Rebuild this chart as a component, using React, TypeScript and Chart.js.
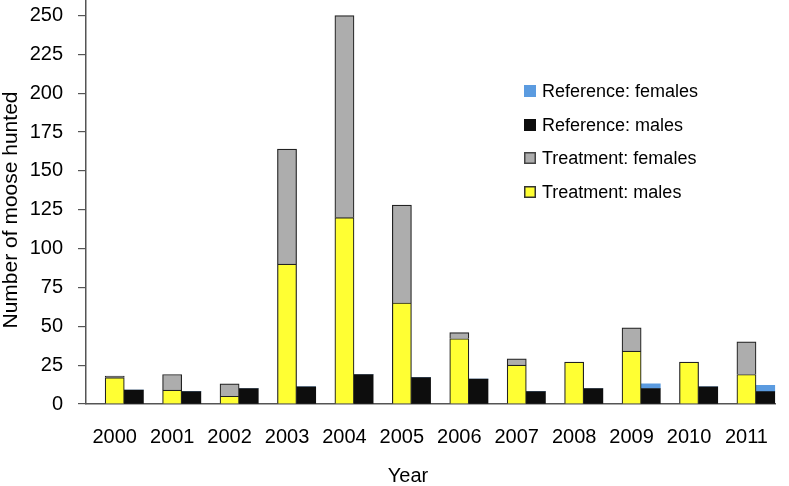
import React, { useEffect, useRef } from "react";
import { Chart, registerables } from "chart.js";

Chart.register(...registerables);

const years = ["2000", "2001", "2002", "2003", "2004", "2005", "2006", "2007", "2008", "2009", "2010", "2011"];
const treatmentMales = [17, 9, 5, 90, 120, 65, 42, 25, 27, 34, 27, 19];
const treatmentFemales = [1, 10, 8, 74, 130, 63, 4, 4, 0, 15, 0, 21];
const referenceMales = [9, 8, 10, 11, 19, 17, 16, 8, 10, 10, 11, 8];
const referenceFemales = [0, 0, 0, 0, 0, 0, 0, 0, 0, 3, 0, 4];
const emptySlot = [0, 0, 0, 0, 0, 0, 0, 0, 0, 0, 0, 0];
const yTickValues = [0, 25, 50, 75, 100, 125, 150, 175, 200, 225, 250];
const yMax = 260;

const FONT = "'Liberation Sans', Arial, sans-serif";
const YELLOW = "#FFFF33";
const GRAY = "#ADADAD";
const BLACK = "#0D0D0D";
const BLUE = "#5B9BE0";
const EDGE = "#222222";
const AXIS = "#555555";

const legendItems = [
  { label: "Reference: females", color: BLUE, border: null },
  { label: "Reference: males", color: BLACK, border: null },
  { label: "Treatment: females", color: GRAY, border: "#444444" },
  { label: "Treatment: males", color: YELLOW, border: "#333333" },
];

const overlayPlugin = {
  id: "overlay",
  afterDraw(chart: any) {
    const ctx = chart.ctx as CanvasRenderingContext2D;
    ctx.save();
    const bx = 524;
    const rows = [91, 125, 158, 192];
    ctx.font = `18px ${FONT}`;
    ctx.textBaseline = "middle";
    ctx.textAlign = "left";
    legendItems.forEach((it, i) => {
      const cy = rows[i];
      ctx.fillStyle = it.color;
      ctx.fillRect(bx, cy - 6, 12, 12);
      if (it.border) {
        ctx.strokeStyle = it.border;
        ctx.lineWidth = 1.5;
        ctx.strokeRect(bx + 0.75, cy - 5.25, 10.5, 10.5);
      }
      ctx.fillStyle = "#000000";
      ctx.fillText(it.label, 542, cy + 1);
    });
    ctx.font = `21px ${FONT}`;
    ctx.textAlign = "center";
    ctx.textBaseline = "middle";
    ctx.save();
    ctx.translate(11, 210);
    ctx.rotate(-Math.PI / 2);
    ctx.fillText("Number of moose hunted", 0, 0);
    ctx.restore();
    ctx.font = `20px ${FONT}`;
    ctx.fillText("Year", 408, 476);
    ctx.restore();
  },
};

export default function App() {
  const canvasRef = useRef<HTMLCanvasElement | null>(null);

  useEffect(() => {
    document.body.style.margin = "0";
    const canvas = canvasRef.current;
    if (!canvas) return;
    const chart = new Chart(canvas, {
      type: "bar",
      data: {
        labels: years,
        datasets: [
          {
            label: "spacer",
            data: emptySlot,
            stack: "a",
            backgroundColor: "rgba(0,0,0,0)",
            borderWidth: 0,
          },
          {
            label: "Treatment: males",
            data: treatmentMales,
            stack: "b",
            backgroundColor: YELLOW,
            borderColor: EDGE,
            borderWidth: 1.2,
          },
          {
            label: "Treatment: females",
            data: treatmentFemales,
            stack: "b",
            backgroundColor: GRAY,
            borderColor: EDGE,
            borderWidth: 1.2,
          },
          {
            label: "Reference: males",
            data: referenceMales,
            stack: "c",
            backgroundColor: BLACK,
            borderWidth: 0,
          },
          {
            label: "Reference: females",
            data: referenceFemales,
            stack: "c",
            backgroundColor: BLUE,
            borderWidth: 0,
          },
        ],
      },
      options: {
        animation: false,
        responsive: false,
        maintainAspectRatio: false,
        layout: { padding: { left: 0, right: 1, top: 0, bottom: 0 } },
        datasets: {
          bar: { categoryPercentage: 1, barPercentage: 1 },
        },
        plugins: {
          legend: { display: false },
          tooltip: { enabled: false },
          title: { display: false },
        },
        scales: {
          x: {
            stacked: true,
            grid: { display: false, drawTicks: false },
            border: { display: true, color: AXIS, width: 1.5 },
            ticks: {
              color: "#000000",
              font: { family: FONT, size: 20 },
              padding: 21,
              maxRotation: 0,
              autoSkip: false,
            },
            afterFit(scale: any) {
              scale.height = 82;
            },
          },
          y: {
            stacked: true,
            min: 0,
            max: yMax,
            afterBuildTicks(axis: any) {
              axis.ticks = yTickValues.map((v) => ({ value: v }));
            },
            ticks: {
              color: "#000000",
              font: { family: FONT, size: 20 },
              padding: 15,
              autoSkip: false,
            },
            grid: {
              display: true,
              drawOnChartArea: false,
              drawTicks: true,
              tickLength: 8,
              color: AXIS,
              lineWidth: 1.2,
            },
            border: { display: true, color: AXIS, width: 1.5 },
            afterFit(scale: any) {
              scale.width = 86;
              scale.paddingTop = 0;
              scale.paddingBottom = 0;
            },
          },
        },
      },
      plugins: [overlayPlugin],
    });
    return () => chart.destroy();
  }, []);

  return (
    <div style={{ width: 789, height: 486 }}>
      <canvas ref={canvasRef} width={789} height={486} style={{ display: "block" }} />
    </div>
  );
}
